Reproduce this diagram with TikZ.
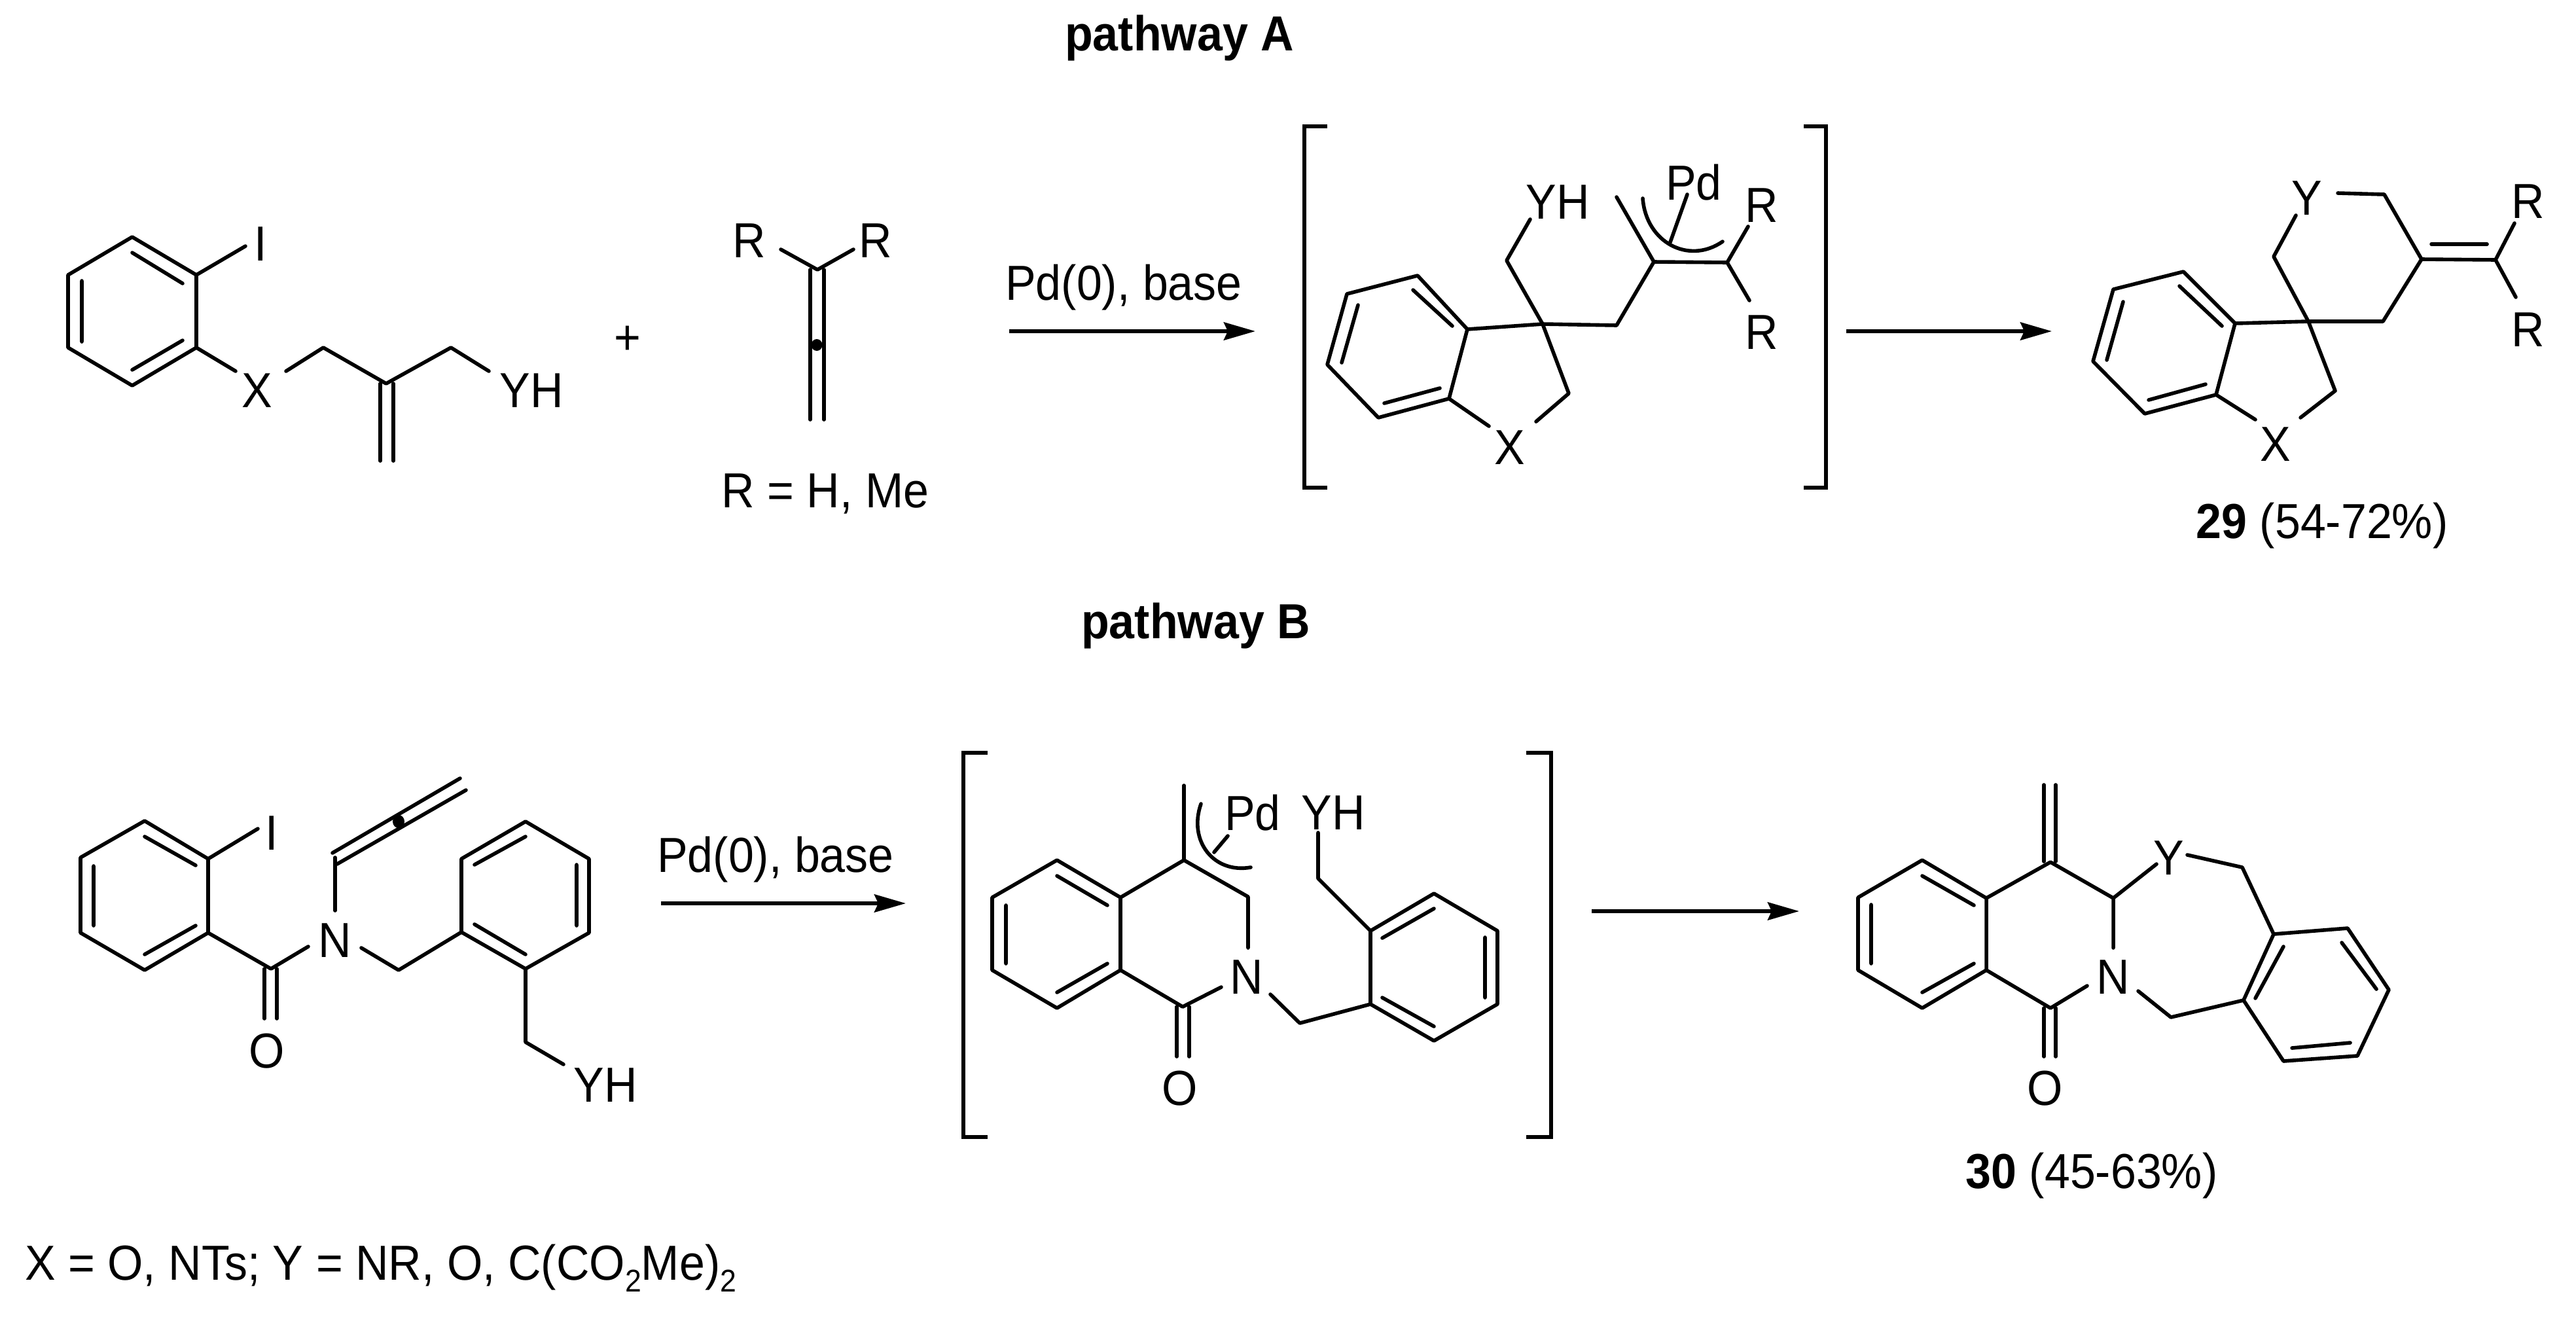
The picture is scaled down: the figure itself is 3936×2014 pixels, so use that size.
\documentclass[tikz,border=0pt]{standalone}
\usepackage{fontspec}
\setmainfont[FakeStretch=0.93]{Liberation Sans}
\usetikzlibrary{arrows.meta}
\tikzset{
  bond/.style={draw=black,line width=1.4pt,line cap=round,line join=round},
  bracket/.style={draw=black,line width=1.6pt,line join=miter},
  rxn/.style={draw=black,line width=1.45pt,-{Stealth[length=12pt,width=6.8pt,inset=1.5pt]}},
  atom/.style={inner sep=0pt,outer sep=0pt,font=\fontsize{18.8}{20}\selectfont},
  lbl/.style={inner sep=0pt,outer sep=0pt,anchor=base,font=\fontsize{18.8}{20}\selectfont},
  title/.style={inner sep=0pt,outer sep=0pt,anchor=base,font=\fontsize{18.8}{20}\selectfont\bfseries},
  dotc/.style={fill=black,draw=none}
}
\begin{document}
\begin{tikzpicture}[x=0.25pt,y=-0.25pt]
\useasboundingbox[fill=white] (0,0) rectangle (3936,2014);
% titles
\node[title] (titleA) at (1802,77) {pathway A};
\node[title] (titleB) at (1827,975) {pathway B};
% --- molecule 1
\draw[bond] (202,362)--(300,420)--(300,531)--(202,589)--(104,531)--(104,420)--cycle;
\draw[bond] (202,386)--(279,433) (279,520)--(202,565) (125,429)--(125,522);
\node[atom] (m1I) at (398,373) {I};
\node[atom] (m1X) at (393,597) {X};
\node[atom] (m1YH) at (812,597) {YH};
\draw[bond] (300,420)--(375,376);
\draw[bond] (300,531)--(360,567);
\draw[bond] (437,567)--(494,531)--(590,586)--(689,531)--(747,567);
\draw[bond] (581,586)--(581,704) (601,586)--(601,704);
\node[atom] (plus) at (959,520) {+};
% allene
\node[atom] (m2R1) at (1145,368) {R};
\node[atom] (m2R2) at (1338,368) {R};
\draw[bond] (1193,381)--(1249,412)--(1304,381);
\draw[bond] (1238,412)--(1238,641) (1259,412)--(1259,641);
\fill[dotc] (1248,527) ellipse (8.5 and 9);
\node[lbl] (Rdef) at (1261,775) {R = H, Me};
% arrow 1
\node[lbl] (cond1) at (1717,458) {Pd(0), base};
\coordinate (a1s) at (1542,506);
\coordinate (a1e) at (1918,506);
\draw[rxn] (a1s)--(a1e);
% bracket 1
\draw[bracket] (2028,193)--(1993,193)--(1993,745)--(2028,745);
\draw[bracket] (2756,193)--(2790,193)--(2790,745)--(2756,745);
% --- intermediate A
\draw[bond] (2166,421)--(2242,503)--(2214,609)--(2106,638)--(2028,557)--(2058,449)--cycle;
\draw[bond] (2159,443)--(2219,498) (2200,593)--(2115,616) (2050,554)--(2075,466);
\draw[bond] (2242,503)--(2357,495)--(2470,497)--(2527,400)--(2639,401);
\draw[bond] (2527,400)--(2470,301);
\draw[bond] (2510,303) .. controls (2515,370) and (2580,405) .. (2632,369);
\draw[bond] (2552,370)--(2578,297);
\draw[bond] (2639,401)--(2671,346) (2639,401)--(2673,459);
\draw[bond] (2338,335)--(2302,398)--(2357,495)--(2397,601)--(2347,644);
\draw[bond] (2214,609)--(2275,651);
\node[atom] (i1Pd) at (2588,279) {Pd};
\node[atom] (i1R1) at (2692,314) {R};
\node[atom] (i1R2) at (2692,508) {R};
\node[atom] (i1YH) at (2380,309) {YH};
\node[atom] (i1X) at (2307,684) {X};
% arrow 2
\coordinate (a2s) at (2821,506);
\coordinate (a2e) at (3135,506);
\draw[rxn] (a2s)--(a2e);
% --- product 29
\draw[bond] (3336,415)--(3415,494)--(3386,603)--(3277,632)--(3198,552)--(3229,442)--cycle;
\draw[bond] (3330,437)--(3395,498) (3370,587)--(3283,611) (3219,550)--(3244,461);
\draw[bond] (3415,494)--(3527,491)--(3641,491)--(3700,396)--(3813,397);
\draw[bond] (3715,373)--(3800,373);
\draw[bond] (3700,396)--(3643,297)--(3572,295);
\draw[bond] (3508,329)--(3474,392)--(3527,491)--(3568,597)--(3515,638);
\draw[bond] (3386,603)--(3446,641);
\draw[bond] (3813,397)--(3842,341) (3813,397)--(3844,454);
\node[atom] (p1Y) at (3525,303) {Y};
\node[atom] (p1X) at (3477,679) {X};
\node[atom] (p1R1) at (3863,308) {R};
\node[atom] (p1R2) at (3863,504) {R};
\node[lbl] (p1lab) at (3548,822) {\textbf{29} (54-72\%)};
% --- molecule 3
\draw[bond] (221,1254)--(318,1312)--(318,1425)--(221,1482)--(123,1425)--(123,1310)--cycle;
\draw[bond] (221,1278)--(299,1322) (299,1414)--(221,1458) (143,1323)--(143,1414);
\node[atom] (m3I) at (415,1273) {I};
\draw[bond] (318,1312)--(394,1266);
\draw[bond] (318,1425)--(414,1480)--(471,1446);
\draw[bond] (404,1480)--(404,1556) (423,1480)--(423,1556);
\node[atom] (m3O) at (408,1606) {O};
\node[atom] (m3N) at (512,1437) {N};
\draw[bond] (512,1391)--(512,1310);
\draw[bond] (508,1303)--(703,1189) (515,1320)--(712,1207);
\fill[dotc] (609,1255) ellipse (9 and 10);
\draw[bond] (552,1448)--(609,1482)--(705,1424);
\draw[bond] (705,1424)--(705,1312)--(803,1255)--(900,1312)--(900,1425)--(803,1480)--cycle;
\draw[bond] (725,1321)--(803,1278) (881,1321)--(881,1414) (725,1412)--(803,1458);
\draw[bond] (803,1480)--(803,1592)--(861,1626);
\node[atom] (m3YH) at (925,1658) {YH};
% arrow 3
\node[lbl] (cond2) at (1185,1332) {Pd(0), base};
\coordinate (a3s) at (1010,1380);
\coordinate (a3e) at (1384,1380);
\draw[rxn] (a3s)--(a3e);
% bracket 2
\draw[bracket] (1509,1150)--(1472,1150)--(1472,1737)--(1509,1737);
\draw[bracket] (2332,1150)--(2370,1150)--(2370,1737)--(2332,1737);
% --- intermediate B
\draw[bond] (1615,1314)--(1712,1371)--(1712,1482)--(1615,1540)--(1516,1482)--(1516,1371)--cycle;
\draw[bond] (1615,1338)--(1692,1383) (1692,1472)--(1615,1516) (1537,1383)--(1537,1472);
\draw[bond] (1712,1371)--(1809,1314)--(1907,1370)--(1907,1448);
\draw[bond] (1809,1314)--(1809,1200);
\draw[bond] (1712,1482)--(1807,1538)--(1866,1508);
\draw[bond] (1798,1538)--(1798,1614) (1817,1538)--(1817,1614);
\node[atom] (i2O) at (1803,1663) {O};
\node[atom] (i2N) at (1905,1493) {N};
\node[atom] (i2Pd) at (1914,1242) {Pd};
\draw[bond] (1835,1228) .. controls (1815,1285) and (1855,1335) .. (1911,1325);
\draw[bond] (1876,1277)--(1855,1302);
\draw[bond] (1941,1519)--(1986,1563)--(2094,1534);
\draw[bond] (2094,1422)--(2191,1365)--(2288,1422)--(2288,1534)--(2191,1590)--(2094,1534)--cycle;
\draw[bond] (2112,1433)--(2191,1388) (2269,1432)--(2269,1524) (2112,1524)--(2191,1568);
\draw[bond] (2094,1422)--(2014,1342)--(2014,1272);
\node[atom] (i2YH) at (2037,1242) {YH};
% arrow 4
\coordinate (a4s) at (2432,1392);
\coordinate (a4e) at (2749,1392);
\draw[rxn] (a4s)--(a4e);
% --- product 30
\draw[bond] (2937,1314)--(3035,1372)--(3035,1482)--(2937,1540)--(2839,1482)--(2839,1371)--cycle;
\draw[bond] (2937,1338)--(3016,1383) (3016,1472)--(2937,1516) (2859,1382)--(2859,1472);
\draw[bond] (3035,1372)--(3133,1317)--(3229,1372)--(3229,1448);
\draw[bond] (3123,1316)--(3123,1199) (3141,1316)--(3141,1199);
\draw[bond] (3229,1372)--(3295,1320);
\draw[bond] (3342,1306)--(3426,1325)--(3474,1427);
\draw[bond] (3474,1427)--(3587,1418)--(3650,1512)--(3602,1613)--(3489,1621)--(3428,1528)--cycle;
\draw[bond] (3578,1440)--(3631,1511) (3591,1593)--(3502,1601) (3446,1525)--(3489,1446);
\draw[bond] (3267,1514)--(3317,1554)--(3428,1528);
\draw[bond] (3035,1482)--(3133,1540)--(3189,1506);
\draw[bond] (3123,1540)--(3123,1614) (3141,1540)--(3141,1614);
\node[atom] (p2O) at (3125,1663) {O};
\node[atom] (p2N) at (3229,1493) {N};
\node[atom] (p2Y) at (3314,1311) {Y};
\node[lbl] (p2lab) at (3196,1815) {\textbf{30} (45-63\%)};
% footer
\node[lbl,anchor=base west] (footer) at (38,1955) {X = O, NTs; Y = NR, O, C(CO\raisebox{-0.25em}{\fontsize{12}{12}\selectfont 2}Me)\raisebox{-0.25em}{\fontsize{12}{12}\selectfont 2}};
\end{tikzpicture}
\end{document}
